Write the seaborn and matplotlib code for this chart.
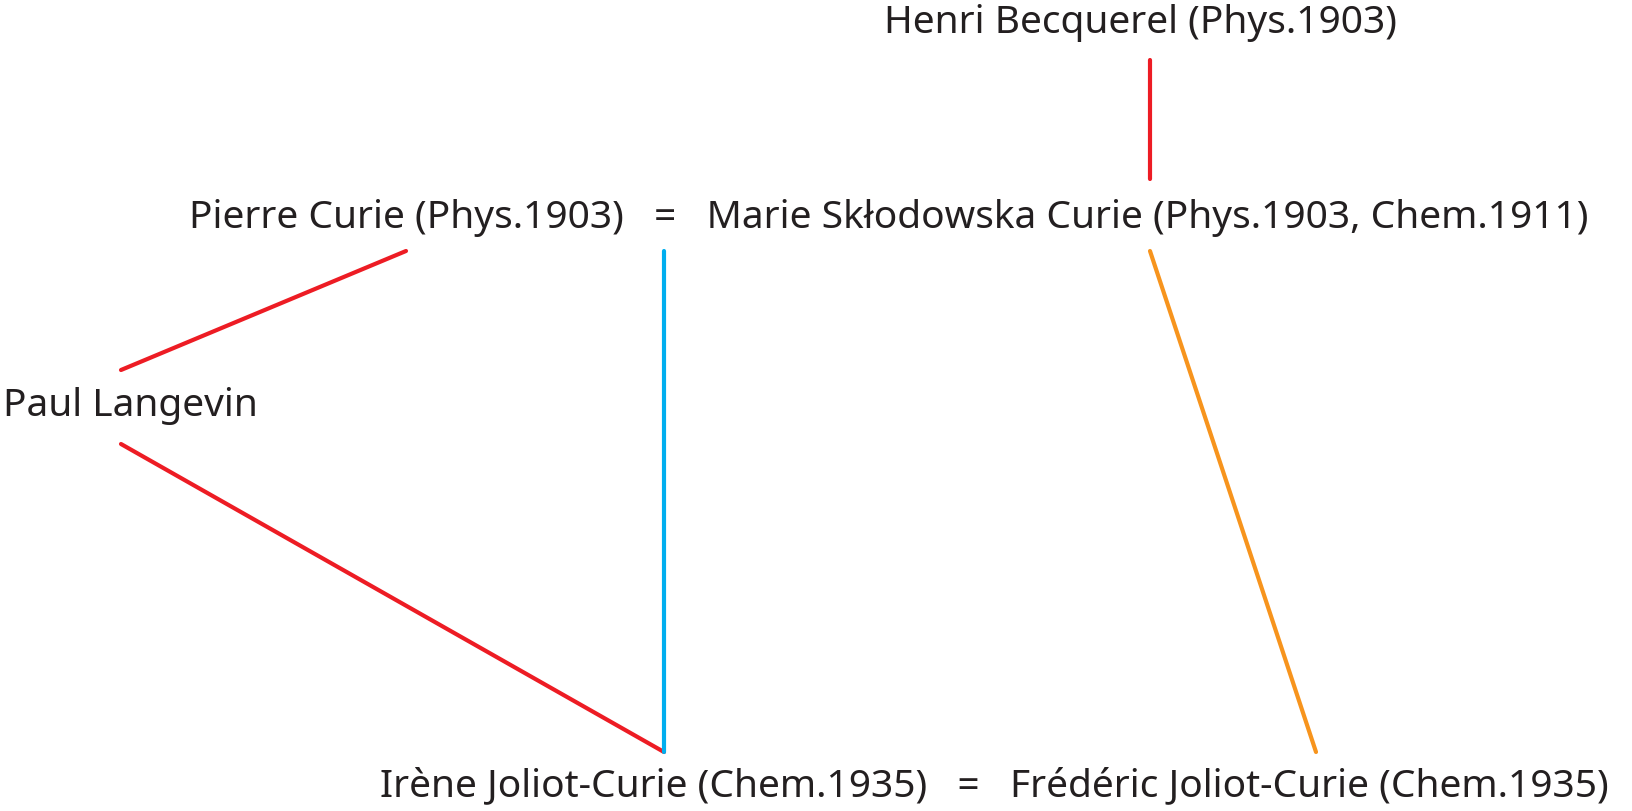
import matplotlib
matplotlib.use("Agg")
import matplotlib.pyplot as plt
import seaborn as sns
import pandas as pd

# node labels and their anchor positions (pixel space of the 1633x811 canvas)
labels = [
    "Henri Becquerel (Phys.1903)",
    "Pierre Curie (Phys.1903)   =   Marie Skłodowska Curie (Phys.1903, Chem.1911)",
    "Paul Langevin",
    "Irène Joliot-Curie (Chem.1935)   =   Frédéric Joliot-Curie (Chem.1935)",
]
label_x = [1140, 889, 3, 994]
label_y = [23, 218, 406, 786]
label_ha = ["center", "center", "left", "center"]

# links between people
edge_x0 = [1150, 406, 121, 664, 1150]
edge_y0 = [60, 251, 444, 251, 251]
edge_x1 = [1150, 121, 664, 664, 1316]
edge_y1 = [179, 370, 752, 752, 752]
edge_kind = ["mentor", "mentor", "mentor", "parent", "mentor_wife"]

palette = {"mentor": "#ed1c24", "parent": "#00aeef", "mentor_wife": "#f7941d"}

sns.set_theme(style="white")
plt.rcParams["font.family"] = ["Noto Sans", "DejaVu Sans"]

fig = plt.figure(figsize=(16.33, 8.11), dpi=100)
ax = fig.add_axes([0, 0, 1, 1])

rows = []
for i in range(len(edge_x0)):
    rows.append({"edge": i, "x": edge_x0[i], "y": edge_y0[i], "kind": edge_kind[i]})
    rows.append({"edge": i, "x": edge_x1[i], "y": edge_y1[i], "kind": edge_kind[i]})
df = pd.DataFrame(rows)

for i, g in df.groupby("edge"):
    sns.lineplot(data=g, x="x", y="y", color=palette[g["kind"].iloc[0]],
                 lw=3, sort=False, estimator=None, ax=ax, legend=False)

for t, x, y, ha in zip(labels, label_x, label_y, label_ha):
    ax.text(x, y, t, ha=ha, va="center", fontsize=28, color="#231f20")

ax.set_xlim(0, 1633)
ax.set_ylim(811, 0)
ax.axis("off")

fig.savefig("out.png", dpi=100)
